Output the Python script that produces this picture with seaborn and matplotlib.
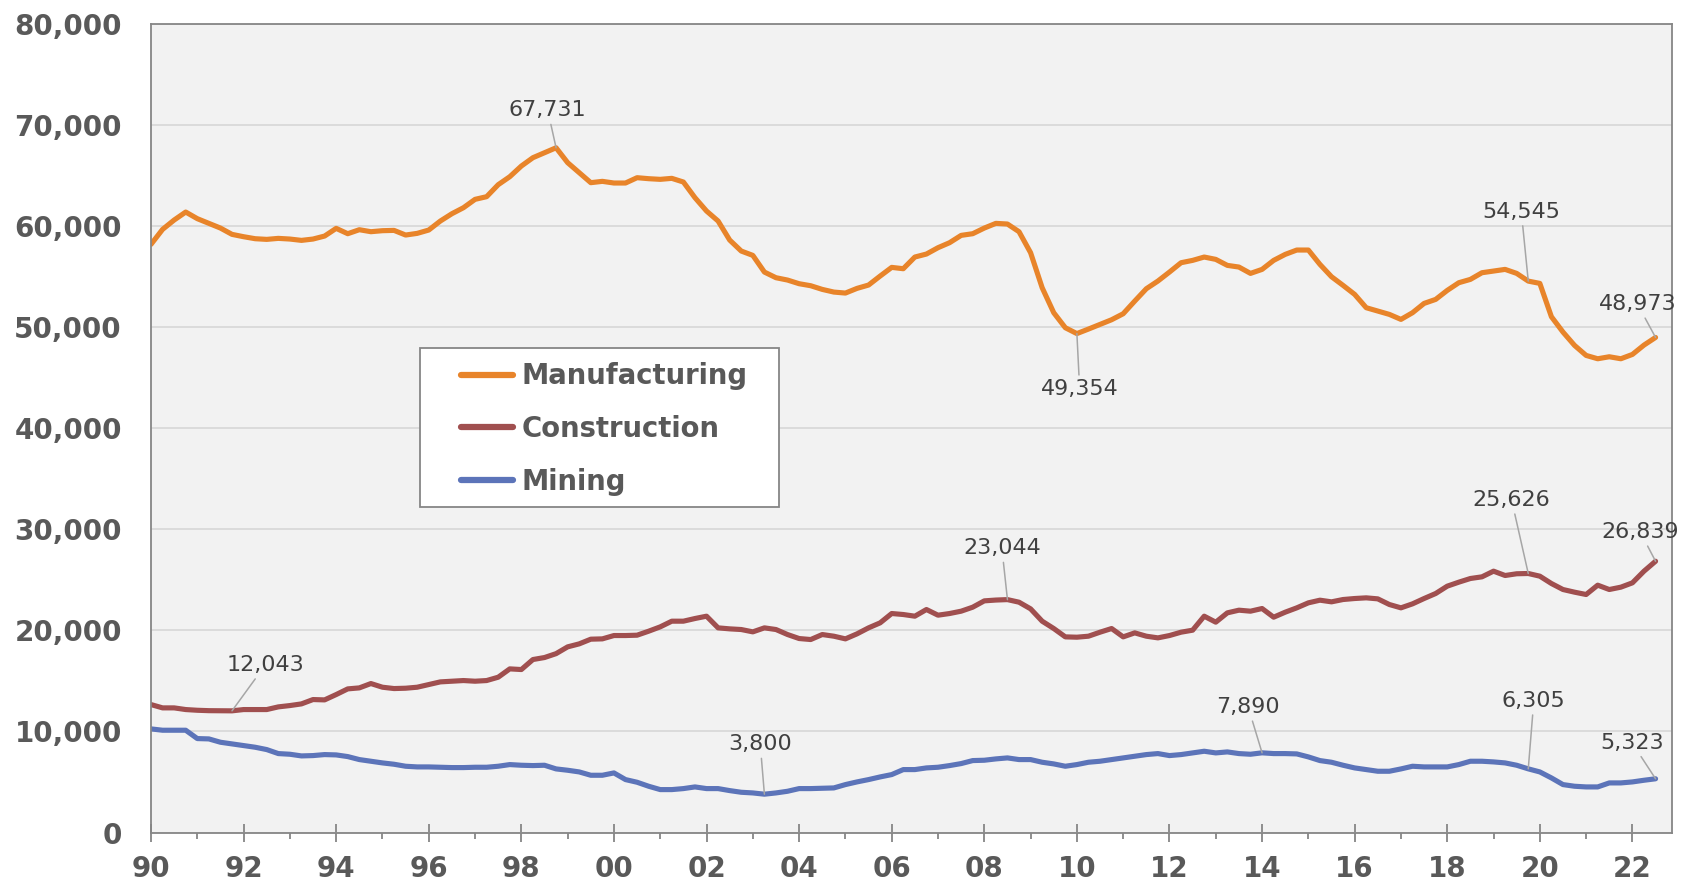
import numpy as np
import pandas as pd
import matplotlib
matplotlib.use("Agg")
import matplotlib.pyplot as plt
from matplotlib.patches import Rectangle
import seaborn as sns

# quarterly data, 1990Q1 - 2022Q3
quarters = pd.period_range("1990Q1", "2022Q3", freq="Q")

manufacturing = [
    58180, 59660, 60585, 61375, 60720, 60255, 59790, 59166, 58935, 58737,
    58671, 58770, 58704, 58572, 58704, 59000, 59760, 59232, 59627, 59430,
    59530, 59560, 59100, 59265, 59595, 60485, 61210, 61805, 62630, 62894,
    64080, 64870, 65925, 66750, 67245, 67731, 66258, 65269, 64279, 64410,
    64245, 64245, 64772, 64673, 64608, 64707, 64344, 62794, 61475, 60485,
    58605, 57517, 57088, 55439, 54879, 54648, 54286, 54088, 53724, 53460,
    53361, 53823, 54155, 55043, 55901, 55769, 56924, 57221, 57848, 58343,
    59067, 59232, 59790, 60255, 60189, 59430, 57353, 53889, 51418, 49933,
    49354, 49801, 50262, 50723, 51316, 52569, 53790, 54550, 55439, 56362,
    56594, 56924, 56693, 56100, 55934, 55307, 55703, 56594, 57187, 57617,
    57617, 56198, 54978, 54120, 53230, 51912, 51582, 51251, 50757, 51418,
    52339, 52735, 53625, 54385, 54714, 55373, 55538, 55703, 55307, 54545,
    54318, 51022, 49504, 48184, 47194, 46864, 47062, 46864, 47293, 48217,
    48973,
]

construction = [
    12664, 12335, 12335, 12170, 12100, 12060, 12050, 12043, 12170, 12170,
    12170, 12434, 12565, 12730, 13159, 13126, 13654, 14214, 14313, 14742,
    14379, 14247, 14280, 14379, 14643, 14907, 14973, 15039, 14973, 15039,
    15369, 16193, 16127, 17117, 17315, 17700, 18370, 18667, 19130, 19161,
    19491, 19491, 19524, 19920, 20349, 20910, 20910, 21173, 21404, 20250,
    20151, 20085, 19854, 20250, 20085, 19590, 19194, 19095, 19590, 19425,
    19161, 19656, 20250, 20745, 21668, 21569, 21404, 22064, 21503, 21668,
    21899, 22295, 22920, 23000, 23044, 22788, 22130, 20910, 20184, 19359,
    19326, 19425, 19821, 20184, 19359, 19755, 19425, 19260, 19491, 19821,
    20019, 21404, 20811, 21734, 21998, 21899, 22163, 21305, 21800, 22229,
    22724, 22987, 22823, 23053, 23152, 23218, 23118, 22558, 22229, 22625,
    23152, 23647, 24373, 24769, 25131, 25296, 25857, 25428, 25600, 25626,
    25362, 24636, 24042, 23779, 23548, 24472, 24042, 24274, 24703, 25857,
    26839,
]

mining = [
    10257, 10125, 10125, 10125, 9300, 9267, 8937, 8772, 8608, 8443,
    8212, 7816, 7750, 7585, 7618, 7717, 7684, 7519, 7223, 7058,
    6893, 6761, 6563, 6497, 6497, 6464, 6431, 6431, 6464, 6464,
    6563, 6728, 6662, 6629, 6662, 6300, 6167, 6002, 5672, 5672,
    5903, 5244, 4980, 4585, 4254, 4254, 4353, 4518, 4353, 4353,
    4155, 3990, 3924, 3800, 3924, 4089, 4353, 4353, 4386, 4419,
    4749, 5013, 5244, 5507, 5739, 6233, 6233, 6398, 6464, 6629,
    6827, 7124, 7157, 7289, 7388, 7223, 7223, 6959, 6794, 6563,
    6728, 6959, 7058, 7223, 7388, 7553, 7717, 7816, 7618, 7717,
    7882, 8047, 7882, 7981, 7816, 7750, 7890, 7816, 7816, 7783,
    7487, 7124, 6959, 6662, 6398, 6233, 6068, 6068, 6299, 6563,
    6497, 6497, 6497, 6728, 7058, 7058, 6992, 6893, 6662, 6305,
    6002, 5409, 4749, 4585, 4518, 4518, 4914, 4914, 5013, 5178,
    5323,
]

series_names = ["Manufacturing", "Construction", "Mining"]
colors = ["#E8842A", "#A04F4F", "#5C74B9"]

# labelled points (series, quarter)
callouts = [
    ("Manufacturing", "1998Q4"), ("Manufacturing", "2010Q1"),
    ("Manufacturing", "2019Q4"), ("Manufacturing", "2022Q3"),
    ("Construction", "1991Q4"), ("Construction", "2008Q3"),
    ("Construction", "2019Q4"), ("Construction", "2022Q3"),
    ("Mining", "2003Q2"), ("Mining", "2014Q1"),
    ("Mining", "2019Q4"), ("Mining", "2022Q3"),
]

x = quarters.year + (quarters.quarter - 1) / 4.0
wide = pd.DataFrame({"x": x, "Manufacturing": manufacturing,
                     "Construction": construction, "Mining": mining},
                    index=quarters)
df = wide.melt(id_vars="x", var_name="series", value_name="value")

fig = plt.figure(figsize=(16.89, 8.85), dpi=100)
ax = fig.add_axes([0.0894, 0.0592, 0.9004, 0.914])
ax.set_facecolor("#F2F2F2")

sns.lineplot(data=df, x="x", y="value", hue="series", hue_order=series_names,
             palette=dict(zip(series_names, colors)), linewidth=3.7,
             errorbar=None, ax=ax)
for ln in ax.get_lines():
    ln.set_solid_joinstyle("round")
    ln.set_solid_capstyle("round")

ax.set_xlim(1990, 2022.85)
ax.set_ylim(0, 80000)
ax.set_xlabel("")
ax.set_ylabel("")

ax.set_yticks(np.arange(0, 80001, 10000))
ax.set_yticklabels([f"{v:,}" for v in range(0, 80001, 10000)])
ax.set_xticks(np.arange(1990, 2023, 2))
ax.set_xticklabels([f"{y % 100:02d}" for y in range(1990, 2023, 2)])
ax.set_xticks(np.arange(1991, 2023, 2), minor=True)

ax.grid(axis="y", color="#D9D9D9", linewidth=1.3)
ax.grid(axis="x", visible=False)
ax.set_axisbelow(True)
for s in ax.spines.values():
    s.set_color("#868686")
    s.set_linewidth(1.3)

ax.tick_params(axis="y", length=0, pad=21, labelsize=20, labelcolor="#595959")
ax.tick_params(axis="x", which="major", direction="inout", length=12.5,
               width=1.3, color="#868686", pad=10, labelsize=20,
               labelcolor="#595959")
ax.tick_params(axis="x", which="minor", direction="out", length=4,
               width=1.3, color="#868686")
for lab in ax.get_xticklabels() + ax.get_yticklabels():
    lab.set_fontweight("bold")

# data callouts
offsets = [(-6, 27), (2, -40), (-5, 50), (-13, 24),
           (24, 33), (-4, 37), (-12, 53), (-11, 21),
           (-3, 36), (-10, 33), (4, 49), (-17, 26)]
for (name, q), off in zip(callouts, offsets):
    p = pd.Period(q, freq="Q")
    val = wide.loc[p, name]
    ax.annotate(f"{val:,}", xy=(wide.loc[p, "x"], val), xytext=off,
                textcoords="offset points", ha="center", va="center",
                fontsize=16, color="#404040",
                arrowprops=dict(arrowstyle="-", color="#A6A6A6", lw=1.1,
                                shrinkA=1, shrinkB=0))

# legend box drawn separately so its padding matches the original
ax.add_patch(Rectangle((0.177, 0.4025), 0.236, 0.1966, transform=ax.transAxes,
                       facecolor="white", edgecolor="#868686", linewidth=1.3,
                       zorder=4))
handles, labels = ax.get_legend_handles_labels()
leg = ax.legend(handles, labels, loc="center left",
                bbox_to_anchor=(0.2039, 0.499), frameon=False,
                prop={"size": 19.8, "weight": "bold"}, labelcolor="#595959",
                handlelength=1.9, handletextpad=0.3, borderpad=0,
                borderaxespad=0, labelspacing=0.9)
leg.set_zorder(5)
for h in leg.get_lines():
    h.set_linewidth(4.5)

fig.savefig("out.png", dpi=100)
